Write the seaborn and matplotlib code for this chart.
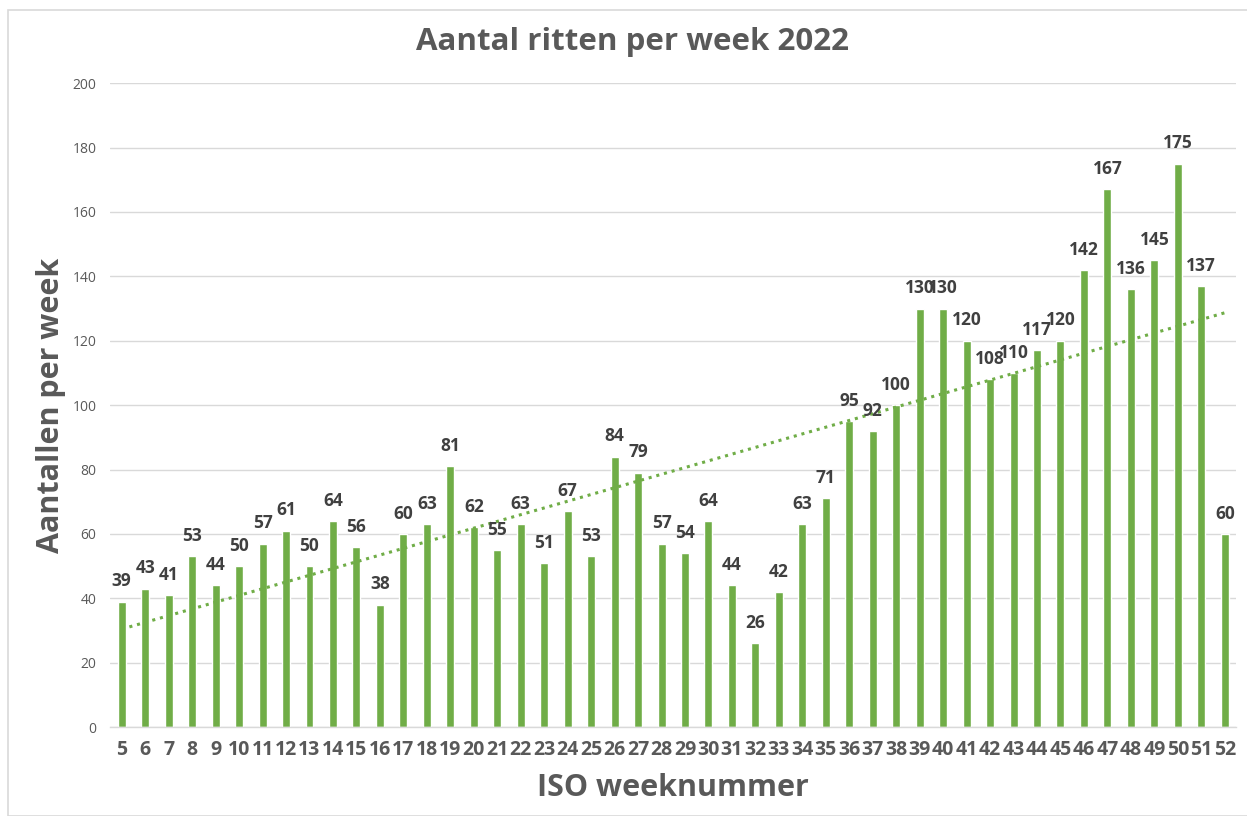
import numpy as np
import pandas as pd
import matplotlib
matplotlib.use("Agg")
import matplotlib.pyplot as plt
import seaborn as sns
from matplotlib.patches import Rectangle

# ── Data ───────────────────────────────────────────────────
weeks = list(range(5, 53))
ritten = [39, 43, 41, 53, 44, 50, 57, 61, 50, 64, 56, 38, 60, 63, 81, 62,
          55, 63, 51, 67, 53, 84, 79, 57, 54, 64, 44, 26, 42, 63, 71, 95,
          92, 100, 130, 130, 120, 108, 110, 117, 120, 142, 167, 136, 145,
          175, 137, 60]
yticks = [0, 20, 40, 60, 80, 100, 120, 140, 160, 180, 200]

title = "Aantal ritten per week 2022"
xlabel = "ISO weeknummer"
ylabel = "Aantallen per week"

df = pd.DataFrame({"week": [str(w) for w in weeks], "ritten": ritten})

# ── Style ──────────────────────────────────────────────────
GREEN = "#70AD47"
GRID = "#D9D9D9"
TXT = "#595959"
LBL = "#404040"

sns.set_theme(style="white")
plt.rcParams["font.family"] = ["Open Sans", "DejaVu Sans"]

fig = plt.figure(figsize=(12.47, 8.16), dpi=100)
ax = fig.add_axes([0.0886, 0.109, 0.9026, 0.789])

sns.barplot(data=df, x="week", y="ritten", color=GREEN, saturation=1,
            width=0.34, ax=ax)

# linear trendline (least squares, like Excel)
pos = np.arange(len(ritten))
slope, icpt = np.polyfit(pos, ritten, 1)
ax.plot(pos, slope * pos + icpt, color=GREEN, lw=2.2, ls=(0, (1, 1.6)),
        zorder=3)

# data labels
for p, v in zip(pos, ritten):
    ax.text(p, v + 3.5, str(v), ha="center", va="bottom", fontsize=12.5,
            fontweight="bold", color=LBL)

ax.set_ylim(0, 200)
ax.set_xlim(-0.48, len(ritten) - 0.52)
ax.set_yticks(yticks)
ax.yaxis.grid(True, color=GRID, lw=1)
ax.set_axisbelow(True)
for s in ["top", "right", "left"]:
    ax.spines[s].set_visible(False)
ax.spines["bottom"].set_color(GRID)
ax.spines["bottom"].set_linewidth(1)
ax.tick_params(axis="y", length=0, pad=10, labelsize=10, labelcolor=TXT)
ax.tick_params(axis="x", length=0, pad=9, labelsize=14, labelcolor=TXT)
for t in ax.get_xticklabels():
    t.set_fontweight("bold")

ax.set_xlabel(xlabel, fontsize=22, fontweight="bold", color=TXT, labelpad=10)
ax.set_ylabel(ylabel, fontsize=22, fontweight="bold", color=TXT, labelpad=5)
fig.text(0.507, 0.948, title, ha="center", va="center", fontsize=22.5,
         fontweight="bold", color=TXT)

# chart border
fig.patches.append(Rectangle((0.0065, 0.0), 0.999, 0.988,
                             transform=fig.transFigure, fill=False,
                             edgecolor=GRID, lw=1.2))

fig.savefig("out.png", dpi=100)
